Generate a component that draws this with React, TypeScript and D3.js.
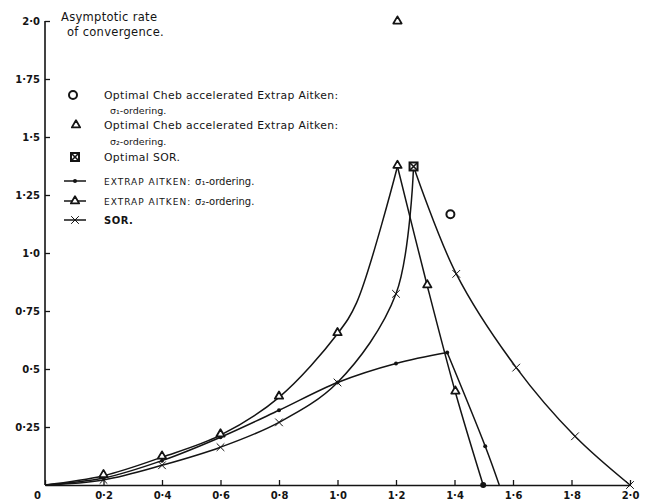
import React, { useEffect, useRef } from 'react';
import * as d3 from 'd3';

// ---- data ----
const xTicks = [0, 0.2, 0.4, 0.6, 0.8, 1.0, 1.2, 1.4, 1.6, 1.8, 2.0];
const xTickLabels = ['0', '0·2', '0·4', '0·6', '0·8', '1·0', '1·2', '1·4', '1·6', '1·8', '2·0'];
const yTicks = [0.25, 0.5, 0.75, 1.0, 1.25, 1.5, 1.75, 2.0];
const yTickLabels = ['0·25', '0·5', '0·75', '1·0', '1·25', '1·5', '1·75', '2·0'];

// Extrap Aitken, sigma1-ordering (dot markers)
const aitken1X = [0, 0.2, 0.4, 0.6, 0.8, 1.0, 1.2, 1.375, 1.505, 1.553];
const aitken1Y = [0, 0.03, 0.105, 0.206, 0.322, 0.442, 0.524, 0.571, 0.167, 0];
const aitken1Peak = 7;

// Extrap Aitken, sigma2-ordering (triangle markers)
const aitken2X = [0, 0.2, 0.4, 0.6, 0.8, 1.0, 1.065, 1.205, 1.307, 1.403, 1.498];
const aitken2Y = [0, 0.04, 0.12, 0.215, 0.378, 0.652, 0.785, 1.373, 0.858, 0.40, 0];
const aitken2Peak = 7;

// SOR (x markers)
const sorX = [0, 0.2, 0.4, 0.6, 0.8, 1.0, 1.2, 1.26, 1.406, 1.611, 1.812, 2.0];
const sorY = [0, 0.022, 0.085, 0.163, 0.27, 0.442, 0.824, 1.373, 0.91, 0.506, 0.21, 0];
const sorPeak = 7;

// single optimal points
const chebS1Point = [1.386, 1.167];
const chebS2Point = [1.205, 1.995];
const optSorPoint = [1.26, 1.373];

const titleLines = ['Asymptotic rate', 'of convergence.'];
const legendMain = [
  'Optimal Cheb accelerated Extrap Aitken:',
  'σ₁-ordering.',
  'Optimal Cheb accelerated Extrap Aitken:',
  'σ₂-ordering.',
  'Optimal SOR.',
];
const legendSeries = ['σ₁-ordering.', 'σ₂-ordering.', 'SOR.'];

const W = 647;
const H = 504;
const INK = '#141414';
const FONT = "'DejaVu Sans', sans-serif";

export default function App() {
  const ref = useRef<SVGSVGElement>(null);

  useEffect(() => {
    const svg = d3.select(ref.current);
    svg.selectAll('*').remove();

    const x = d3.scaleLinear().domain([0, 2]).range([45, 630]);
    const y = d3.scaleLinear().domain([0, 2]).range([485, 21]);

    // axes
    const xAxis = d3
      .axisBottom(x)
      .tickValues(xTicks)
      .tickSizeInner(-5)
      .tickSizeOuter(0)
      .tickPadding(7)
      .tickFormat((d, i) => xTickLabels[i]);
    const gx = svg.append('g').attr('transform', `translate(0,${y(0)})`).call(xAxis as any);
    const yAxis = d3
      .axisLeft(y)
      .tickValues(yTicks)
      .tickSizeInner(-5)
      .tickSizeOuter(0)
      .tickPadding(5)
      .tickFormat((d, i) => yTickLabels[i]);
    const gy = svg.append('g').attr('transform', `translate(${x(0)},0)`).call(yAxis as any);
    [gx, gy].forEach((g) => {
      g.selectAll('path.domain').attr('stroke', INK).attr('stroke-width', 1.6);
      g.selectAll('line').attr('stroke', INK).attr('stroke-width', 1.3);
      g.selectAll('text')
        .attr('fill', INK)
        .attr('font-family', FONT)
        .attr('font-size', 10)
        .attr('font-weight', 'bold');
    });
    gy.select('path.domain').attr('d', `M0,${y(2)}V${y(0)}`);
    gx.selectAll('.tick')
      .filter((d: any) => d === 0)
      .select('text')
      .attr('dx', -8);

    // title
    svg
      .append('g')
      .selectAll('text')
      .data(titleLines)
      .join('text')
      .attr('x', (d, i) => (i === 0 ? 61 : 67))
      .attr('y', (d, i) => 21 + i * 15)
      .attr('font-family', FONT)
      .attr('font-size', 11.5)
      .attr('letter-spacing', 0.3)
      .attr('fill', INK)
      .text((d) => d);

    const line = d3
      .line<[number, number]>()
      .x((d) => x(d[0]))
      .y((d) => y(d[1]))
      .curve(d3.curveCatmullRom.alpha(0.5));

    const zipPts = (xs: number[], ys: number[]) => xs.map((v, i) => [v, ys[i]] as [number, number]);
    const drawCurve = (pts: [number, number][], peak: number) => {
      const left = pts.slice(0, peak + 1);
      const right = pts.slice(peak);
      [left, right].forEach((seg) => {
        svg
          .append('path')
          .attr('d', line(seg))
          .attr('fill', 'none')
          .attr('stroke', INK)
          .attr('stroke-width', 1.5);
      });
    };

    const a1 = zipPts(aitken1X, aitken1Y);
    const a2 = zipPts(aitken2X, aitken2Y);
    const so = zipPts(sorX, sorY);
    drawCurve(a1, aitken1Peak);
    drawCurve(a2, aitken2Peak);
    drawCurve(so, sorPeak);

    const tri = d3.symbol(d3.symbolTriangle, 30);
    const times = d3.symbol(d3.symbolTimes, 40);

    const drawTri = (g: any, px: number, py: number, filled = false) =>
      g
        .append('path')
        .attr('d', tri())
        .attr('transform', `translate(${px},${py - 1})`)
        .attr('fill', filled ? INK : 'white')
        .attr('stroke', INK)
        .attr('stroke-width', 1.8)
        .attr('stroke-linejoin', 'round');
    const drawTimes = (g: any, px: number, py: number) =>
      g
        .append('path')
        .attr('d', times())
        .attr('transform', `translate(${px},${py})`)
        .attr('fill', INK)
        .attr('stroke', INK)
        .attr('stroke-width', 1);
    const drawDot = (g: any, px: number, py: number, r = 2) =>
      g.append('circle').attr('cx', px).attr('cy', py).attr('r', r).attr('fill', INK);
    const drawBoxX = (g: any, px: number, py: number) => {
      const s = 4;
      g.append('rect')
        .attr('x', px - s)
        .attr('y', py - s)
        .attr('width', 2 * s)
        .attr('height', 2 * s)
        .attr('fill', 'white')
        .attr('stroke', INK)
        .attr('stroke-width', 2);
      g.append('path')
        .attr('d', `M${px - s},${py - s}L${px + s},${py + s}M${px + s},${py - s}L${px - s},${py + s}`)
        .attr('stroke', INK)
        .attr('stroke-width', 1.6);
    };
    const drawCircle = (g: any, px: number, py: number) =>
      g
        .append('circle')
        .attr('cx', px)
        .attr('cy', py)
        .attr('r', 4)
        .attr('fill', 'white')
        .attr('stroke', INK)
        .attr('stroke-width', 2);

    const mk = svg.append('g');
    // aitken sigma1 dots
    a1.forEach((p, i) => {
      if (i === 0 || i === a1.length - 1) return;
      drawDot(mk, x(p[0]), y(p[1]));
    });
    // aitken sigma2 triangles
    a2.forEach((p, i) => {
      if (i === 0 || i === 6) return;
      if (i === a2.length - 1) {
        drawDot(mk, x(p[0]), y(p[1]), 3);
        return;
      }
      drawTri(mk, x(p[0]), y(p[1]));
    });
    // SOR crosses
    so.forEach((p, i) => {
      if (i === 0 || i === sorPeak) return;
      drawTimes(mk, x(p[0]), y(p[1]));
    });
    // optimal points
    drawCircle(mk, x(chebS1Point[0]), y(chebS1Point[1]));
    drawTri(mk, x(chebS2Point[0]), y(chebS2Point[1]));
    drawBoxX(mk, x(optSorPoint[0]), y(optSorPoint[1]));

    // legend
    const lg = svg.append('g').attr('font-family', FONT).attr('fill', INK);
    const mainY = [95, 110, 125, 141, 157];
    const mainX = [104, 110, 104, 110, 104];
    legendMain.forEach((t, i) => {
      const sub = i === 1 || i === 3;
      lg.append('text')
        .attr('x', mainX[i])
        .attr('y', mainY[i] + 4)
        .attr('font-size', sub ? 9.5 : 10.8)
        .attr('letter-spacing', sub ? 0 : 0.35)
        .text(t);
    });
    drawCircle(lg, 73, 95);
    drawTri(lg, 76, 126);
    drawBoxX(lg, 75, 157);

    const serY = [181, 201, 220];
    legendSeries.forEach((t, i) => {
      lg.append('path')
        .attr('d', `M64,${serY[i]}H86`)
        .attr('stroke', INK)
        .attr('stroke-width', 1.5);
      const txt = lg.append('text').attr('x', 104).attr('y', serY[i] + 4);
      if (i < 2) {
        txt.append('tspan').attr('font-size', 9).attr('letter-spacing', 1).text('EXTRAP AITKEN: ');
        txt.append('tspan').attr('font-size', 10).text(t);
      } else {
        txt.append('tspan').attr('font-size', 10).attr('font-weight', 'bold').attr('letter-spacing', 0.5).text(t);
      }
    });
    drawDot(lg, 75, serY[0], 2);
    drawTri(lg, 75, serY[1] + 1);
    drawTimes(lg, 75, serY[2]);
  }, []);

  return (
    <svg
      ref={ref}
      width={W}
      height={H}
      style={{ position: 'absolute', left: 0, top: 0, background: 'white' }}
    />
  );
}
